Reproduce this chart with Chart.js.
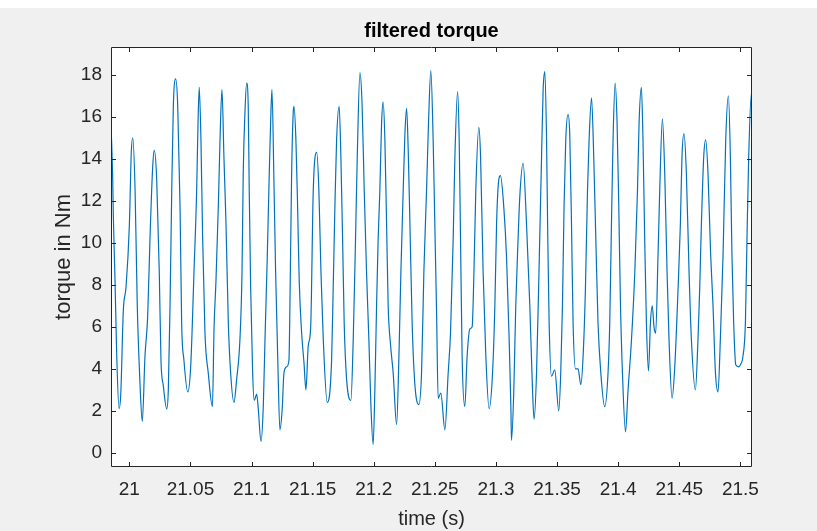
<!DOCTYPE html>
<html>
<head>
<meta charset="utf-8">
<title>filtered torque</title>
<script src="https://cdn.jsdelivr.net/npm/chart.js@4.4.1/dist/chart.umd.min.js"></script>
<style>
    html, body { margin: 0; padding: 0; background: #f0f0f0; }
    #torque-chart { display: block; }
</style>
</head>
<body>
<canvas id="torque-chart" width="817" height="531"></canvas>
<script>
// time axis (s) and torque (Nm)
const timeS = [
    20.9850, 20.9864, 20.9869, 20.9883, 20.9897, 20.9916, 20.9930, 20.9951, 20.9973, 21.0000,
    21.0016, 21.0028, 21.0047, 21.0065, 21.0088, 21.0106, 21.0128, 21.0150, 21.0169, 21.0191,
    21.0204, 21.0224, 21.0245, 21.0259, 21.0278, 21.0306, 21.0319, 21.0333, 21.0347, 21.0360,
    21.0379, 21.0396, 21.0415, 21.0428, 21.0447, 21.0478, 21.0502, 21.0529, 21.0551, 21.0562,
    21.0572, 21.0586, 21.0600, 21.0619, 21.0646, 21.0680, 21.0693, 21.0709, 21.0728, 21.0742,
    21.0758, 21.0774, 21.0791, 21.0810, 21.0829, 21.0856, 21.0878, 21.0905, 21.0922, 21.0932,
    21.0946, 21.0960, 21.0973, 21.0981, 21.0993, 21.1009, 21.1022, 21.1042, 21.1055, 21.1077,
    21.1096, 21.1110, 21.1129, 21.1145, 21.1156, 21.1167, 21.1183, 21.1197, 21.1214, 21.1232,
    21.1251, 21.1265, 21.1287, 21.1306, 21.1314, 21.1328, 21.1341, 21.1347, 21.1363, 21.1377,
    21.1390, 21.1410, 21.1429, 21.1445, 21.1464, 21.1484, 21.1505, 21.1533, 21.1551, 21.1568,
    21.1587, 21.1619, 21.1655, 21.1668, 21.1682, 21.1696, 21.1717, 21.1731, 21.1745, 21.1758,
    21.1778, 21.1813, 21.1832, 21.1848, 21.1865, 21.1887, 21.1905, 21.1922, 21.1941, 21.1960,
    21.1977, 21.1995, 21.2009, 21.2023, 21.2036, 21.2050, 21.2064, 21.2077, 21.2091, 21.2105,
    21.2118, 21.2138, 21.2159, 21.2187, 21.2206, 21.2222, 21.2241, 21.2255, 21.2269, 21.2282,
    21.2296, 21.2314, 21.2336, 21.2369, 21.2391, 21.2410, 21.2432, 21.2448, 21.2467, 21.2486,
    21.2500, 21.2514, 21.2527, 21.2549, 21.2582, 21.2609, 21.2628, 21.2650, 21.2664, 21.2686,
    21.2699, 21.2710, 21.2723, 21.2745, 21.2764, 21.2786, 21.2805, 21.2821, 21.2835, 21.2860,
    21.2874, 21.2895, 21.2917, 21.2944, 21.2972, 21.2991, 21.3005, 21.3018, 21.3037, 21.3064,
    21.3086, 21.3108, 21.3122, 21.3127, 21.3146, 21.3162, 21.3181, 21.3195, 21.3222, 21.3250,
    21.3277, 21.3299, 21.3312, 21.3332, 21.3353, 21.3373, 21.3386, 21.3400, 21.3414, 21.3424,
    21.3435, 21.3454, 21.3481, 21.3514, 21.3530, 21.3544, 21.3557, 21.3571, 21.3590, 21.3604,
    21.3618, 21.3631, 21.3651, 21.3672, 21.3694, 21.3713, 21.3732, 21.3749, 21.3762, 21.3782,
    21.3800, 21.3817, 21.3835, 21.3858, 21.3890, 21.3917, 21.3931, 21.3945, 21.3958, 21.3975,
    21.3991, 21.4005, 21.4019, 21.4035, 21.4060, 21.4081, 21.4109, 21.4136, 21.4158, 21.4171,
    21.4190, 21.4203, 21.4217, 21.4231, 21.4248, 21.4264, 21.4279, 21.4293, 21.4307, 21.4326,
    21.4340, 21.4362, 21.4381, 21.4400, 21.4416, 21.4441, 21.4463, 21.4490, 21.4509, 21.4522,
    21.4539, 21.4558, 21.4580, 21.4599, 21.4632, 21.4653, 21.4667, 21.4681, 21.4700, 21.4716,
    21.4735, 21.4757, 21.4776, 21.4796, 21.4817, 21.4836, 21.4858, 21.4880, 21.4902, 21.4918,
    21.4931, 21.4945, 21.4962, 21.4986, 21.5000, 21.5021, 21.5041, 21.5054, 21.5068, 21.5090,
    21.5095
];

const torqueNm = [
    15.7, 13.0, 11.3, 8.2, 4.6, 2.1, 2.8, 6.8, 7.9, 10.8,
    14.3, 15.0, 12.5, 7.0, 3.2, 1.5, 4.6, 6.5, 10.2, 13.6,
    14.4, 13.0, 8.6, 4.4, 3.2, 2.1, 3.0, 7.0, 12.5, 16.5,
    17.8, 16.5, 11.7, 6.2, 4.4, 2.9, 4.1, 8.6, 12.5, 15.7,
    17.4, 14.9, 10.2, 5.7, 3.8, 2.2, 5.9, 8.2, 11.7, 14.9,
    17.3, 14.1, 10.9, 6.2, 3.8, 2.4, 3.5, 5.4, 8.6, 13.3,
    16.2, 17.6, 16.5, 12.5, 7.8, 3.8, 2.5, 2.8, 2.1, 0.55,
    2.2, 5.4, 9.4, 13.3, 15.7, 17.3, 13.0, 8.6, 4.6, 1.1,
    2.1, 3.8, 4.1, 4.4, 7.0, 13.3, 16.2, 16.5, 14.9, 11.7,
    8.2, 5.7, 4.3, 3.0, 5.1, 6.0, 12.5, 14.3, 12.5, 8.6,
    5.4, 2.4, 4.4, 7.8, 11.7, 14.9, 16.5, 14.1, 10.2, 6.2,
    3.5, 2.5, 5.4, 9.4, 14.1, 18.1, 16.5, 12.5, 8.6, 5.4,
    2.2, 0.4, 3.0, 7.0, 10.2, 12.5, 15.7, 16.7, 14.9, 10.9,
    7.0, 5.1, 3.8, 1.35, 4.6, 8.6, 12.5, 15.2, 16.4, 14.4,
    10.9, 6.2, 3.3, 2.3, 3.8, 8.6, 12.5, 15.7, 18.2, 14.9,
    10.8, 6.7, 2.6, 2.85, 1.1, 3.8, 5.7, 10.2, 14.1, 17.2,
    14.9, 10.2, 4.6, 2.2, 4.6, 5.9, 6.0, 8.9, 12.5, 15.5,
    14.1, 8.6, 4.6, 2.1, 3.8, 7.0, 10.9, 12.7, 13.2, 11.7,
    9.4, 5.4, 2.2, 0.6, 3.0, 7.0, 10.2, 12.2, 13.8, 10.9,
    7.0, 3.0, 1.6, 3.8, 8.9, 14.1, 17.3, 18.15, 14.9, 10.2,
    6.2, 3.65, 3.95, 2.0, 3.8, 7.0, 11.7, 14.9, 16.1, 15.1,
    10.9, 6.2, 4.0, 4.0, 3.25, 4.6, 7.8, 12.5, 14.9, 16.9,
    14.1, 10.2, 6.2, 3.8, 2.2, 3.8, 6.2, 10.9, 14.9, 17.6,
    15.7, 11.7, 7.0, 3.8, 1.0, 3.0, 5.4, 8.6, 12.5, 15.7,
    17.4, 14.9, 10.2, 6.2, 3.9, 6.2, 7.0, 6.0, 5.7, 9.4,
    12.5, 15.9, 13.3, 8.6, 5.4, 2.6, 4.1, 7.8, 10.9, 14.1,
    15.2, 13.3, 8.6, 5.4, 3.0, 5.4, 7.8, 10.9, 14.1, 14.9,
    13.3, 9.4, 7.0, 3.8, 2.9, 5.4, 9.4, 14.9, 17.0, 14.1,
    9.4, 6.2, 4.2, 4.1, 4.2, 4.6, 6.2, 10.2, 14.1, 17.1,
    15.9
];

const xTicks = [21, 21.05, 21.1, 21.15, 21.2, 21.25, 21.3, 21.35, 21.4, 21.45, 21.5];
const xTickLabels = ["21", "21.05", "21.1", "21.15", "21.2", "21.25", "21.3", "21.35", "21.4", "21.45", "21.5"];
const yTicks = [0, 2, 4, 6, 8, 10, 12, 14, 16, 18];
const yTickLabels = ["0", "2", "4", "6", "8", "10", "12", "14", "16", "18"];

const axisColor = "#262626";
const fontFamily = "'Liberation Sans', Arial, Helvetica, sans-serif";
const titleText = "filtered torque";

// figure background, white axes, box with inward ticks and title (matlab look)
const matlabAxes = {
    id: "matlabAxes",
    beforeDraw(chart) {
        const { ctx, chartArea: a } = chart;
        ctx.save();
        ctx.fillStyle = "#ffffff";
        ctx.fillRect(0, 0, chart.width, 8);
        ctx.fillStyle = "#f0f0f0";
        ctx.fillRect(0, 8, chart.width, chart.height - 8);
        ctx.fillStyle = "#ffffff";
        ctx.fillRect(a.left, a.top, a.right - a.left, a.bottom - a.top);
        ctx.restore();
    },
    afterDraw(chart) {
        const { ctx, chartArea: a, scales } = chart;
        const tick = 5;
        ctx.save();
        ctx.strokeStyle = axisColor;
        ctx.lineWidth = 1;
        ctx.beginPath();
        ctx.rect(a.left + 0.5, a.top + 0.5, a.right - a.left - 1, a.bottom - a.top - 1);
        xTicks.forEach((v) => {
            const px = Math.round(scales.x.getPixelForValue(v)) + 0.5;
            ctx.moveTo(px, a.bottom);
            ctx.lineTo(px, a.bottom - tick);
            ctx.moveTo(px, a.top);
            ctx.lineTo(px, a.top + tick);
        });
        yTicks.forEach((v) => {
            const py = Math.round(scales.y.getPixelForValue(v)) + 0.5;
            ctx.moveTo(a.left, py);
            ctx.lineTo(a.left + tick, py);
            ctx.moveTo(a.right, py);
            ctx.lineTo(a.right - tick, py);
        });
        ctx.stroke();

        // title centred over the axes
        ctx.fillStyle = "#000000";
        ctx.font = "bold 20px " + fontFamily;
        ctx.textAlign = "center";
        ctx.textBaseline = "alphabetic";
        ctx.fillText(titleText, (a.left + a.right) / 2, 37);
        ctx.restore();
    },
};

const ctx = document.getElementById("torque-chart");

const chart = new Chart(ctx, {
    type: "line",
    data: {
        datasets: [
            {
                label: titleText,
                data: timeS.map((t, i) => ({ x: t, y: torqueNm[i] })),
                borderColor: "#0072BD",
                borderWidth: 1.2,
                pointRadius: 0,
                fill: false,
                cubicInterpolationMode: "monotone",
            },
        ],
    },
    options: {
        responsive: false,
        devicePixelRatio: 1,
        animation: false,
        layout: {
            padding: { left: 0, right: 65, top: 47, bottom: 0 },
        },
        scales: {
            x: {
                type: "linear",
                min: 20.985,
                max: 21.5095,
                grid: { display: false, drawTicks: false },
                border: { display: false },
                afterBuildTicks: (axis) => {
                    axis.ticks = xTicks.map((v) => ({ value: v }));
                },
                afterFit: (scale) => {
                    scale.height = 64;
                },
                ticks: {
                    autoSkip: false,
                    maxRotation: 0,
                    padding: 11,
                    color: axisColor,
                    font: { family: fontFamily, size: 19 },
                    callback: (value, index) => xTickLabels[index],
                },
                title: {
                    display: true,
                    text: "time (s)",
                    color: axisColor,
                    font: { family: fontFamily, size: 20 },
                    padding: { top: 0, bottom: 0 },
                },
            },
            y: {
                type: "linear",
                min: -0.67,
                max: 19.32,
                grid: { display: false, drawTicks: false },
                border: { display: false },
                afterBuildTicks: (axis) => {
                    axis.ticks = yTicks.map((v) => ({ value: v }));
                },
                afterFit: (scale) => {
                    scale.width = 111;
                },
                ticks: {
                    autoSkip: false,
                    padding: 9,
                    color: axisColor,
                    font: { family: fontFamily, size: 19 },
                    callback: (value, index) => yTickLabels[index],
                },
                title: {
                    display: true,
                    text: "torque in Nm",
                    color: axisColor,
                    font: { family: fontFamily, size: 22 },
                    padding: { top: 51, bottom: 0 },
                },
            },
        },
        plugins: {
            legend: { display: false },
            tooltip: { enabled: false },
            title: { display: false },
        },
    },
    plugins: [matlabAxes],
});
</script>
</body>
</html>
